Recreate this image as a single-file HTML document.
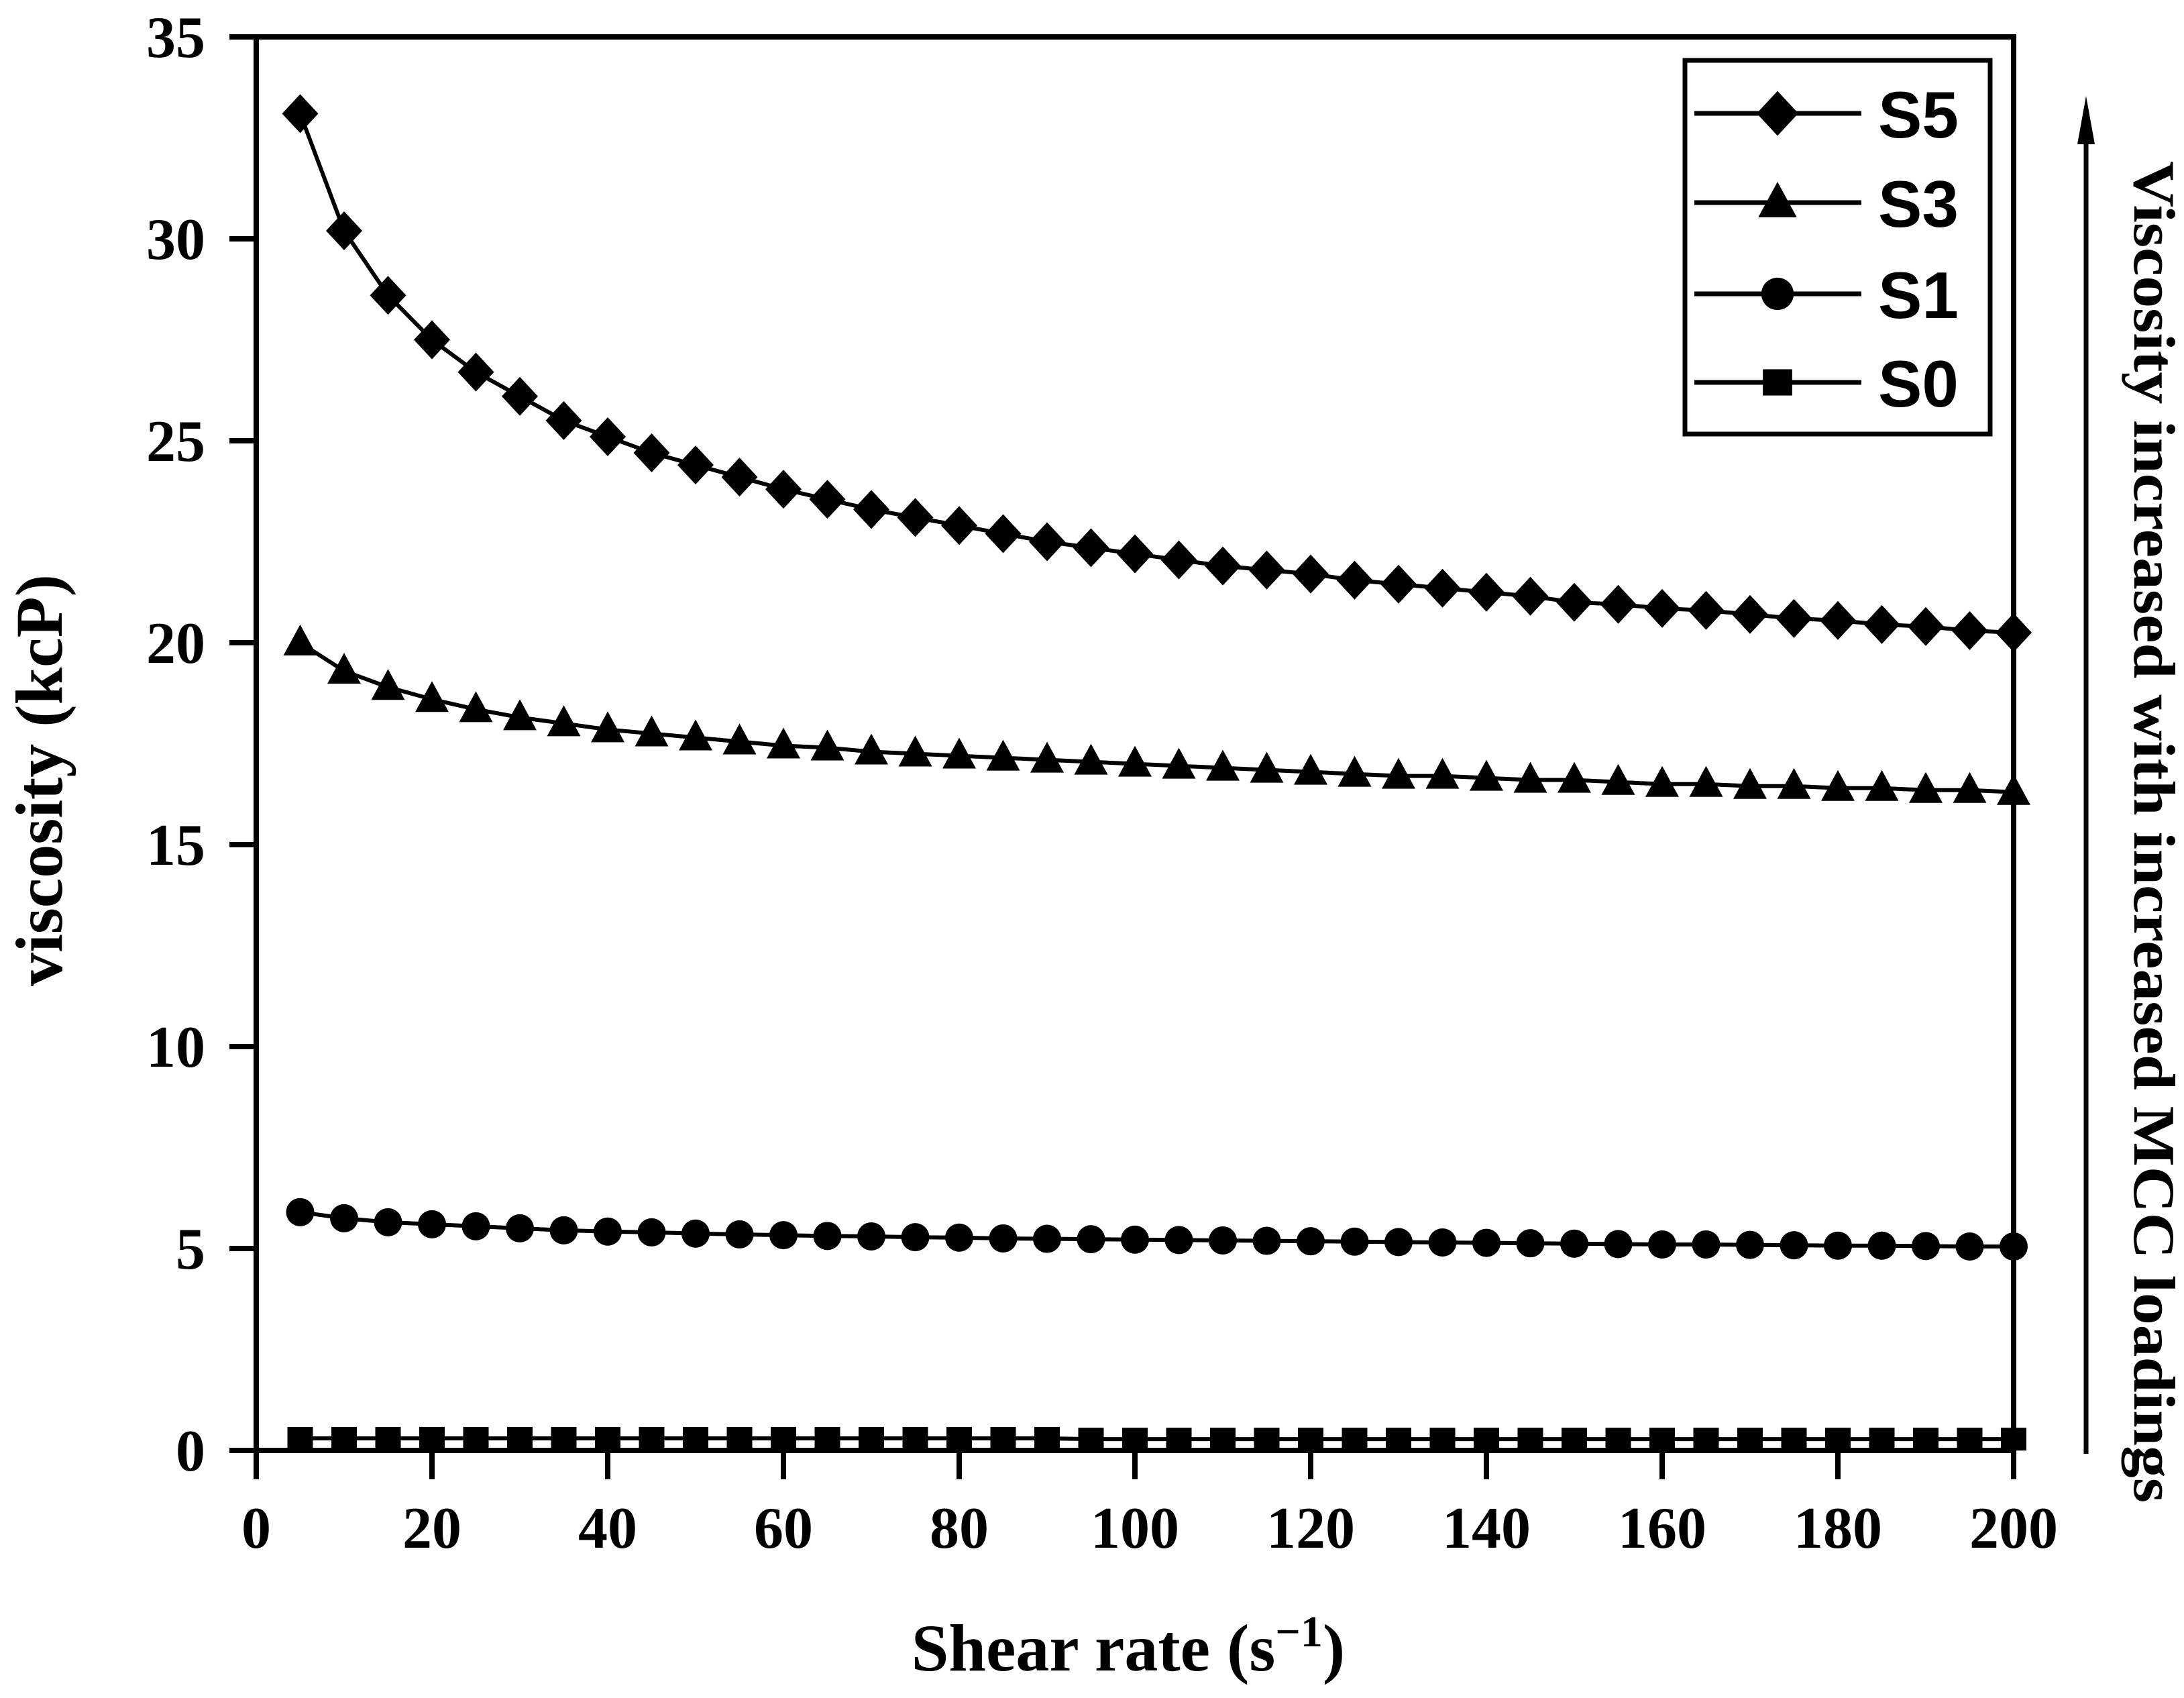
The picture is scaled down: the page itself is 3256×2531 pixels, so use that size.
<!DOCTYPE html>
<html><head><meta charset="utf-8"><style>
html,body{margin:0;padding:0;background:#fff;}
svg{display:block;}
.tk{font-family:"Liberation Serif",serif;font-weight:bold;font-size:88px;fill:#000;}
</style></head><body>
<svg id="chart" width="3256" height="2531" viewBox="0 0 3256 2531" xmlns="http://www.w3.org/2000/svg">
<g id="axes"></g>
<g id="series"></g>
<g id="legend">
<rect x="2512" y="90" width="455" height="557" fill="none" stroke="#000" stroke-width="7"/>
</g>
<text transform="translate(92,1163) rotate(-90)" text-anchor="middle" font-family="Liberation Serif, serif" font-weight="bold" font-size="100">viscosity (kcP)</text>
<text x="1682" y="2490" text-anchor="middle" font-family="Liberation Serif, serif" font-weight="bold" font-size="100">Shear rate (s<tspan baseline-shift="super" font-size="66">−1</tspan>)</text>
<line x1="3110" y1="2167" x2="3110" y2="200" stroke="#000" stroke-width="7"/>
<polygon points="3110,143 3097,215 3123,215" fill="#000"/>
<text transform="translate(3182,1240) rotate(90)" text-anchor="middle" font-family="Liberation Serif, serif" font-weight="bold" font-size="88" textLength="2000" lengthAdjust="spacingAndGlyphs">Viscosity increased with increased MCC loadings</text>
</svg>
<script>
const xs = [5,10,15,20,25,30,35,40,45,50,55,60,65,70,75,80,85,90,95,100,105,110,115,120,125,130,135,140,145,150,155,160,165,170,175,180,185,190,195,200];
const s5 = [33.1,30.2,28.6,27.5,26.7,26.1,25.5,25.1,24.7,24.4,24.1,23.8,23.55,23.3,23.1,22.9,22.7,22.5,22.35,22.2,22.05,21.9,21.8,21.7,21.55,21.45,21.35,21.25,21.15,21.0,20.95,20.85,20.8,20.7,20.6,20.55,20.45,20.4,20.3,20.25];
const s3 = [20.0,19.3,18.9,18.6,18.35,18.15,18.0,17.85,17.75,17.65,17.55,17.45,17.4,17.3,17.25,17.2,17.15,17.1,17.05,17.0,16.95,16.9,16.85,16.8,16.75,16.7,16.7,16.65,16.6,16.6,16.55,16.5,16.5,16.45,16.45,16.4,16.4,16.35,16.35,16.3];
const s1 = [5.9,5.75,5.65,5.6,5.55,5.5,5.45,5.42,5.4,5.37,5.35,5.33,5.31,5.3,5.28,5.27,5.25,5.24,5.23,5.22,5.21,5.2,5.19,5.18,5.17,5.16,5.15,5.14,5.13,5.12,5.11,5.1,5.1,5.09,5.08,5.07,5.07,5.06,5.05,5.05];
const s0 = [0.3,0.3,0.3,0.3,0.3,0.3,0.3,0.3,0.3,0.3,0.3,0.3,0.3,0.3,0.3,0.3,0.3,0.3,0.28,0.28,0.28,0.28,0.28,0.28,0.28,0.28,0.28,0.28,0.28,0.28,0.28,0.28,0.28,0.28,0.28,0.28,0.28,0.28,0.28,0.28];
const xTicks = [0,20,40,60,80,100,120,140,160,180,200];
const yTicks = [0,5,10,15,20,25,30,35];
const seriesNames = ["S5","S3","S1","S0"];

const NS = "http://www.w3.org/2000/svg";
const X0 = 382, XK = 13.1, Y0 = 2162, YK = 60.2;
function sx(v){ return X0 + v*XK; }
function sy(v){ return Y0 - v*YK; }
function mk(tag, attrs, parent){ const e=document.createElementNS(NS,tag); for(const k in attrs) e.setAttribute(k,attrs[k]); parent.appendChild(e); return e; }

const axesG = document.getElementById('axes');
const ax = sx(0), xRight = sx(200), yTop = sy(35);
let el;
el = mk('line',{x1:ax,y1:yTop,x2:ax,y2:Y0+43,stroke:'#000','stroke-width':8},axesG);


el = mk('line',{x1:ax-40,y1:Y0,x2:xRight+4,y2:Y0,stroke:'#000','stroke-width':8},axesG);


el = mk('line',{x1:ax-40,y1:yTop,x2:xRight+4,y2:yTop,stroke:'#000','stroke-width':8},axesG);


el = mk('line',{x1:xRight,y1:yTop-4,x2:xRight,y2:Y0+43,stroke:'#000','stroke-width':8},axesG);


yTicks.forEach(v=>{
  const t = mk('line',{x1:ax-40,y1:sy(v),x2:ax,y2:sy(v),stroke:'#000','stroke-width':8},axesG);
  
  
  const l = mk('text',{x:306,y:sy(v)+30,'text-anchor':'end','class':'tk'},axesG);
  
  
  l.textContent = v;
});
xTicks.forEach(v=>{
  const t = mk('line',{x1:sx(v),y1:Y0,x2:sx(v),y2:Y0+43,stroke:'#000','stroke-width':8},axesG);
  
  
  const l = mk('text',{x:sx(v),y:2307,'text-anchor':'middle','class':'tk'},axesG);
  
  
  l.textContent = v;
});

function marker(type, cx, cy, g, big){
  const s = big ? 1.15 : 1;
  if(type==='diamond') return mk('polygon',{points:`${cx},${cy-29*s} ${cx+27*s},${cy} ${cx},${cy+29*s} ${cx-27*s},${cy}`,fill:'#000'},g);
  if(type==='triangle') return mk('polygon',{points:`${cx},${cy-27*s} ${cx+25*s},${cy+19*s} ${cx-25*s},${cy+19*s}`,fill:'#000'},g);
  if(type==='circle') return mk('circle',{cx:cx,cy:cy,r:21*s,fill:'#000'},g);
  return mk('rect',{x:cx-19*s,y:cy-17*s,width:38*s,height:34*s,fill:'#000'},g);
}
const allData = [s5,s3,s1,s0];
const types = ['diamond','triangle','circle','square'];
const sg = document.getElementById('series');
allData.forEach((d,i)=>{
  const g = mk('g',{},sg);
  
  
  const p = mk('polyline',{points:xs.map((x,j)=>sx(x)+','+sy(d[j])).join(' '),fill:'none',stroke:'#000','stroke-width':6},g);
  
  
  xs.forEach((x,j)=>{
    const m = marker(types[i], sx(x), sy(d[j]), g, false);
    
    
  });
});
const lg = document.getElementById('legend');
const rowsY = [169,302,438,570];
seriesNames.forEach((n,i)=>{
  const g = mk('g',{},lg);
  
  
  mk('line',{x1:2526,y1:rowsY[i],x2:2775,y2:rowsY[i],stroke:'#000','stroke-width':7},g);
  marker(types[i],2650,rowsY[i],g,true);
  const t = mk('text',{x:2800,y:rowsY[i]+36,'font-family':'Liberation Sans, sans-serif','font-weight':'bold','font-size':'98'},g);
  t.textContent = n;
});
</script>
</body></html>
